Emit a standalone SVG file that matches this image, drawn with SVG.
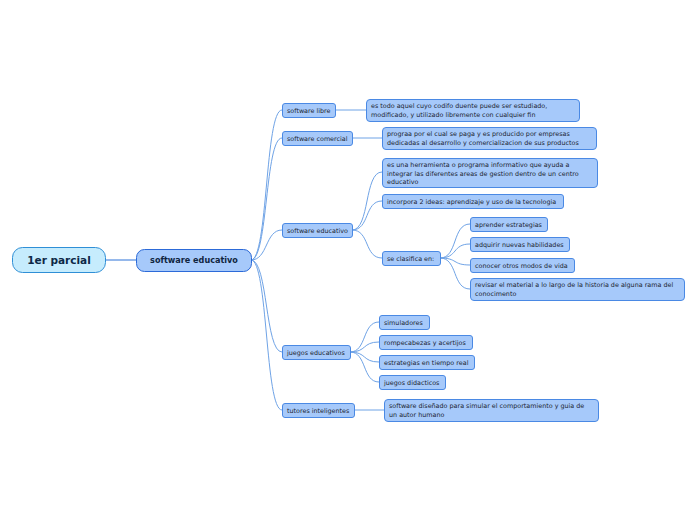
<svg xmlns="http://www.w3.org/2000/svg" width="696" height="520" viewBox="0 0 696 520">
<style>
.n rect{fill:#a6c9fa;stroke:#4a89e4;stroke-width:1}
.n text{font-family:"DejaVu Sans",Verdana,sans-serif;font-size:6.4px;fill:#1b2430}
.c path{fill:none;stroke:#6fa3e6;stroke-width:1}
</style>
<rect width="696" height="520" fill="#ffffff"/>
<g class="c">
<path d="M105,260 L136,260" stroke-width="2" style="stroke:#2c72d8"/>
<path d="M251,260 C268,260 265,110 282,110"/>
<path d="M251,260 C268,260 265,138 282,138"/>
<path d="M251,260 C268,260 265,230 282,230"/>
<path d="M251,260 C268,260 265,352 282,352"/>
<path d="M251,260 C268,260 265,410 282,410"/>
<path d="M335,110 L366,110"/>
<path d="M352,138 L382,138"/>
<path d="M352,230 C370,230 364,172 382,172"/>
<path d="M352,230 C370,230 364,201 382,201"/>
<path d="M352,230 C370,230 364,258 382,258"/>
<path d="M440,258 C458,258 452,224 470,224"/>
<path d="M440,258 C458,258 452,244 470,244"/>
<path d="M440,258 C458,258 452,265 470,265"/>
<path d="M440,258 C458,258 452,289 470,289"/>
<path d="M350,352 C367,352 362,322 379,322"/>
<path d="M350,352 C367,352 362,342 379,342"/>
<path d="M350,352 C367,352 362,362 379,362"/>
<path d="M350,352 C367,352 362,382 379,382"/>
<path d="M354,410 L384,410"/>
</g>
<g id="root"><rect x="12.5" y="247.5" width="93" height="25" rx="10" fill="#c6ecfd" stroke="#2f8fd6" stroke-width="1"/>
<text x="59" y="264" text-anchor="middle" font-family="'DejaVu Sans',Verdana,sans-serif" font-size="10.5" font-weight="bold" fill="#0d2847">1er parcial</text></g>
<g id="main"><rect x="136.5" y="249.5" width="115" height="22" rx="8" fill="#a6c9fa" stroke="#2c6ad8" stroke-width="1"/>
<text x="194" y="263.3" text-anchor="middle" font-family="'DejaVu Sans',Verdana,sans-serif" font-size="8.1" font-weight="bold" fill="#10253f">software educativo</text></g>
<g id="libre" class="n"><rect x="282.5" y="103.5" width="53" height="14" rx="2.5"/><text x="287" y="112.7">software libre</text></g>
<g id="comercial" class="n"><rect x="282.5" y="131.5" width="70" height="14" rx="2.5"/><text x="287" y="140.7">software comercial</text></g>
<g id="educativo2" class="n"><rect x="282.5" y="223.5" width="70" height="14" rx="2.5"/><text x="287" y="232.7">software educativo</text></g>
<g id="juegos" class="n"><rect x="282.5" y="345.5" width="68" height="14" rx="2.5"/><text x="287" y="354.7">juegos educativos</text></g>
<g id="tutores" class="n"><rect x="282.5" y="403.5" width="72" height="14" rx="2.5"/><text x="287" y="412.7">tutores inteligentes</text></g>
<g id="libre-desc" class="n"><rect x="366.5" y="99.5" width="213" height="22" rx="3.5"/><text x="371" y="108.3">es todo aquel cuyo codifo duente puede ser estudiado,</text><text x="371" y="117">modificado, y utilizado libremente con cualquier fin</text></g>
<g id="comercial-desc" class="n"><rect x="382.5" y="127.5" width="214" height="22" rx="3.5"/><text x="387" y="136.3">prograa por el cual se paga y es producido por empresas</text><text x="387" y="145">dedicadas al desarrollo y comercializacion de sus productos</text></g>
<g id="edu-desc" class="n"><rect x="382.5" y="158.5" width="215" height="29" rx="3.5"/><text x="387" y="167.3">es una herramienta o programa informativo que ayuda a</text><text x="387" y="175.6">integrar las diferentes areas de gestion dentro de un centro</text><text x="387" y="183.9">educativo</text></g>
<g id="incorpora" class="n"><rect x="382.5" y="194.5" width="181" height="14" rx="2.5"/><text x="387" y="203.7">incorpora 2 ideas: aprendizaje y uso de la tecnologia</text></g>
<g id="clasifica" class="n"><rect x="382.5" y="251.5" width="58" height="14" rx="2.5"/><text x="387" y="260.7">se clasifica en:</text></g>
<g id="aprender" class="n"><rect x="470.5" y="217.5" width="77" height="14" rx="2.5"/><text x="475" y="226.7">aprender estrategias</text></g>
<g id="adquirir" class="n"><rect x="470.5" y="237.5" width="99" height="14" rx="2.5"/><text x="475" y="246.7">adquirir nuevas habilidades</text></g>
<g id="conocer" class="n"><rect x="470.5" y="258.5" width="104" height="14" rx="2.5"/><text x="475" y="267.7">conocer otros modos de vida</text></g>
<g id="revisar" class="n"><rect x="470.5" y="278.5" width="214" height="22" rx="3.5"/><text x="475" y="287.3">revisar el material a lo largo de la historia de alguna rama del</text><text x="475" y="296">conocimento</text></g>
<g id="simuladores" class="n"><rect x="379.5" y="315.5" width="50" height="14" rx="2.5"/><text x="384" y="324.7">simuladores</text></g>
<g id="rompecabezas" class="n"><rect x="379.5" y="335.5" width="93" height="14" rx="2.5"/><text x="384" y="344.7">rompecabezas y acertijos</text></g>
<g id="estrategias" class="n"><rect x="379.5" y="355.5" width="95" height="14" rx="2.5"/><text x="384" y="364.7">estrategias en tiempo real</text></g>
<g id="didacticos" class="n"><rect x="379.5" y="375.5" width="66" height="14" rx="2.5"/><text x="384" y="384.7">juegos didacticos</text></g>
<g id="tutores-desc" class="n"><rect x="384.5" y="399.5" width="214" height="22" rx="3.5"/><text x="389" y="408.3">software diseñado para simular el comportamiento y guia de</text><text x="389" y="417">un autor humano</text></g>
</svg>
